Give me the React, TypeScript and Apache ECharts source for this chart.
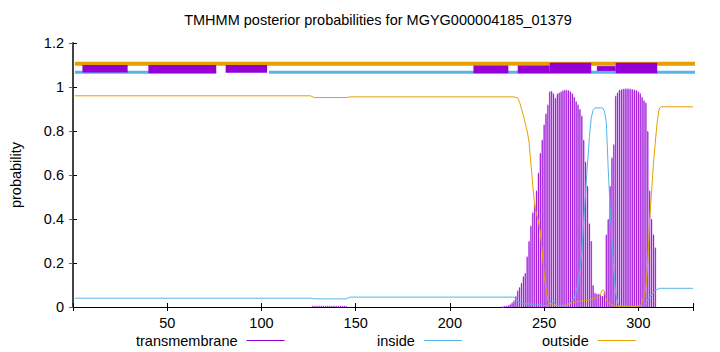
import React, { useEffect, useRef } from "react";
import * as echarts from "echarts";

const FONT = "'Liberation Sans', Arial, sans-serif";
const FS = 14.5;
const TITLE = "TMHMM posterior probabilities for MGYG000004185_01379";

const xTicks = [50, 100, 150, 200, 250, 300];

// transmembrane posterior per residue [residue, probability]
const tmPoints: [number, number][] = [
  [127, 0.006], [128, 0.006], [129, 0.006], [130, 0.006], [131, 0.006], [132, 0.006], [133, 0.006],
  [134, 0.006], [135, 0.006], [136, 0.006], [137, 0.006], [138, 0.006], [139, 0.006], [140, 0.006],
  [141, 0.006], [142, 0.006], [143, 0.006], [144, 0.006], [145, 0.005],
  [228, 0.003], [229, 0.004], [230, 0.006], [231, 0.008], [232, 0.012], [233, 0.02], [234, 0.03],
  [235, 0.05], [236, 0.075], [237, 0.09], [238, 0.11], [239, 0.14], [240, 0.155], [241, 0.23],
  [242, 0.3], [243, 0.37], [244, 0.43], [245, 0.47], [246, 0.53], [247, 0.61], [248, 0.7],
  [249, 0.76], [250, 0.83], [251, 0.88], [252, 0.92], [253, 0.98], [254, 0.982], [255, 0.97],
  [256, 0.95], [257, 0.97], [258, 0.975], [259, 0.98], [260, 0.985], [261, 0.987], [262, 0.987],
  [263, 0.985], [264, 0.98], [265, 0.97], [266, 0.955], [267, 0.935], [268, 0.92], [269, 0.9],
  [270, 0.87], [271, 0.76], [272, 0.66], [273, 0.55], [274, 0.38], [275, 0.3], [276, 0.1],
  [277, 0.065], [278, 0.06], [279, 0.06], [280, 0.055], [281, 0.05], [282, 0.07], [283, 0.33],
  [284, 0.4], [285, 0.55], [286, 0.68], [287, 0.74], [288, 0.96], [289, 0.975], [290, 0.988],
  [291, 0.99], [292, 0.992], [293, 0.993], [294, 0.993], [295, 0.993], [296, 0.992], [297, 0.99],
  [298, 0.988], [299, 0.985], [300, 0.98], [301, 0.972], [302, 0.955], [303, 0.94], [304, 0.93],
  [305, 0.8], [306, 0.53], [307, 0.4], [308, 0.33], [309, 0.27],
];

const insidePoints: [number, number][] = [
  [1, 0.04], [126, 0.04], [128, 0.037], [145, 0.037], [147, 0.045], [234, 0.045], [235, 0.035],
  [237, 0.022], [239, 0.015], [246, 0.012], [251, 0.005], [253, 0.008], [255, 0.025], [256, 0.012],
  [257, 0.005], [261, 0.005], [264, 0.02], [266, 0.04], [268, 0.1], [269, 0.17], [270, 0.25],
  [271, 0.39], [272, 0.52], [273, 0.65], [274, 0.77], [275, 0.86], [276, 0.895], [277, 0.905],
  [281, 0.905], [282, 0.89], [283, 0.84], [284, 0.63], [285, 0.45], [286, 0.3], [287, 0.16],
  [288, 0.06], [289, 0.02], [290, 0.004], [302, 0.004], [304, 0.02], [306, 0.045], [307, 0.055],
  [309, 0.075], [311, 0.085], [329, 0.085],
];

const outsidePoints: [number, number][] = [
  [1, 0.96], [126, 0.96], [128, 0.952], [145, 0.952], [147, 0.955], [234, 0.955], [236, 0.95],
  [237, 0.93], [238, 0.9], [239, 0.87], [240, 0.835], [241, 0.8], [242, 0.75], [243, 0.65],
  [244, 0.55], [245, 0.46], [246, 0.42], [247, 0.39], [248, 0.34], [249, 0.25], [250, 0.15],
  [251, 0.08], [252, 0.03], [253, 0.015], [254, 0.01], [258, 0.005], [262, 0.01], [265, 0.02],
  [268, 0.025], [273, 0.03], [277, 0.04], [279, 0.045], [280, 0.06], [281, 0.078], [282, 0.07],
  [283, 0.03], [284, 0.02], [286, 0.01], [288, 0.003], [301, 0.003], [302, 0.02], [303, 0.05],
  [304, 0.09], [305, 0.2], [306, 0.4], [307, 0.52], [308, 0.65], [309, 0.75], [310, 0.84],
  [311, 0.9], [312, 0.91], [329, 0.91],
];

// predicted topology strip: [start, end, low, high]
const topologyBoxes: [number, number, number, number][] = [
  [5, 29, 1.066, 1.1],
  [40, 76, 1.063, 1.1],
  [81, 103, 1.065, 1.1],
  [212.5, 231, 1.062, 1.098],
  [236, 253, 1.062, 1.098],
  [253, 275, 1.062, 1.11],
  [278, 288, 1.073, 1.095],
  [288, 310, 1.062, 1.11],
];

const outsideStrip: [number, number][] = [[1, 1.106], [343, 1.106]];
const insideStripA: [number, number][] = [[1, 1.067], [76, 1.067]];
const insideStripB: [number, number][] = [[104, 1.067], [343, 1.067]];

const PURPLE = "#9400d3";
const LIGHT_PURPLE = "#d8a2f0";
const BLUE = "#56b4e9";
const ORANGE = "#e69f00";

export default function App() {
  const ref = useRef<HTMLDivElement>(null);
  useEffect(() => {
    if (!ref.current) return;
    const chart = echarts.init(ref.current, undefined, { renderer: "svg" });
    const axisCommon = {
      axisLine: { show: true, lineStyle: { color: "#000", width: 1 } },
      splitLine: { show: false },
    };
    const legendCommon = {
      top: 328,
      align: "right" as const,
      itemWidth: 38,
      itemHeight: 1,
      selectedMode: false,
      textStyle: { fontSize: FS, fontFamily: FONT, color: "#000", padding: [0, 4, 0, 0] },
    };
    chart.setOption({
      animation: false,
      backgroundColor: "#fff",
      title: {
        text: TITLE,
        left: 378,
        textAlign: "center",
        top: 12,
        padding: 0,
        textStyle: { fontSize: FS, fontWeight: "normal", fontFamily: FONT, color: "#000" },
      },
      legend: [
        { ...legendCommon, left: 131, data: [{ name: "transmembrane", icon: "rect" }] },
        { ...legendCommon, left: 372, data: [{ name: "inside", icon: "rect" }] },
        { ...legendCommon, left: 537, data: [{ name: "outside", icon: "rect" }] },
      ],
      grid: { left: 71.5, right: 27, top: 43, bottom: 45 },
      xAxis: [
        {
          type: "value",
          min: 0,
          max: 329,
          interval: 50,
          ...axisCommon,
          axisTick: { show: true, inside: true, length: 4, lineStyle: { color: "#000" } },
          axisLabel: {
            fontSize: FS,
            fontFamily: FONT,
            color: "#000",
            margin: 8,
            formatter: (v: number) => (xTicks.includes(v) ? String(v) : ""),
          },
        },
        {
          type: "value",
          position: "top",
          min: 0,
          max: 329,
          interval: 50,
          ...axisCommon,
          axisTick: { show: true, inside: true, length: 4, lineStyle: { color: "#000" } },
          axisLabel: { show: false },
        },
      ],
      yAxis: [
        {
          type: "value",
          min: 0,
          max: 1.2,
          interval: 0.2,
          name: "probability",
          nameLocation: "middle",
          nameGap: 50,
          nameTextStyle: { fontSize: FS, fontFamily: FONT, color: "#000" },
          ...axisCommon,
          axisTick: { show: true, inside: true, length: 4, lineStyle: { color: "#000" } },
          axisLabel: { fontSize: FS, fontFamily: FONT, color: "#000", margin: 9 },
        },
        {
          type: "value",
          position: "right",
          min: 0,
          max: 1.2,
          interval: 0.2,
          axisLine: { show: true, lineStyle: { color: "#444", width: 2 } },
          splitLine: { show: false },
          axisTick: { show: true, inside: true, length: 4, lineStyle: { color: "#666" } },
          axisLabel: { show: false },
        },
      ],
      series: [
        {
          name: "outsideStrip",
          type: "line",
          data: outsideStrip,
          clip: false,
          showSymbol: false,
          silent: true,
          lineStyle: { color: ORANGE, width: 4 },
          z: 2,
        },
        {
          name: "insideStripA",
          type: "line",
          data: insideStripA,
          clip: false,
          showSymbol: false,
          silent: true,
          lineStyle: { color: BLUE, width: 3 },
          z: 2,
        },
        {
          name: "insideStripB",
          type: "line",
          data: insideStripB,
          clip: false,
          showSymbol: false,
          silent: true,
          lineStyle: { color: BLUE, width: 3 },
          z: 2,
        },
        {
          name: "topology",
          type: "custom",
          data: topologyBoxes,
          encode: { x: [0, 1], y: [2, 3] },
          silent: true,
          z: 3,
          renderItem: (params: any, api: any) => {
            const p1 = api.coord([api.value(0), api.value(3)]);
            const p2 = api.coord([api.value(1), api.value(2)]);
            return {
              type: "rect",
              shape: { x: p1[0], y: p1[1], width: p2[0] - p1[0], height: p2[1] - p1[1] },
              style: { fill: PURPLE },
            };
          },
        },
        {
          name: "transmembrane",
          type: "custom",
          data: tmPoints,
          encode: { x: 0, y: 1 },
          itemStyle: { color: PURPLE },
          silent: true,
          z: 4,
          renderItem: (params: any, api: any) => {
            const x = api.value(0);
            const y = api.value(1);
            const base = api.coord([x, 0]);
            const top = api.coord([x, y]);
            const w = api.size([1, 0])[0];
            return {
              type: "group",
              children: [
                {
                  type: "rect",
                  shape: { x: base[0] - w / 2, y: top[1] + 1, width: w, height: base[1] - top[1] - 1 },
                  style: { fill: LIGHT_PURPLE },
                },
                {
                  type: "rect",
                  shape: { x: base[0] - 0.4, y: top[1], width: 0.8, height: base[1] - top[1] },
                  style: { fill: PURPLE },
                },
              ],
            };
          },
        },
        {
          name: "inside",
          type: "line",
          data: insidePoints,
          showSymbol: false,
          lineStyle: { color: BLUE, width: 1 },
          itemStyle: { color: BLUE },
          z: 5,
        },
        {
          name: "outside",
          type: "line",
          data: outsidePoints,
          showSymbol: false,
          lineStyle: { color: ORANGE, width: 1 },
          itemStyle: { color: ORANGE },
          z: 6,
        },
      ],
    });
    return () => chart.dispose();
  }, []);
  return (
    <div
      ref={ref}
      style={{ position: "fixed", left: 0, top: 0, width: 720, height: 352, background: "#fff" }}
    />
  );
}
